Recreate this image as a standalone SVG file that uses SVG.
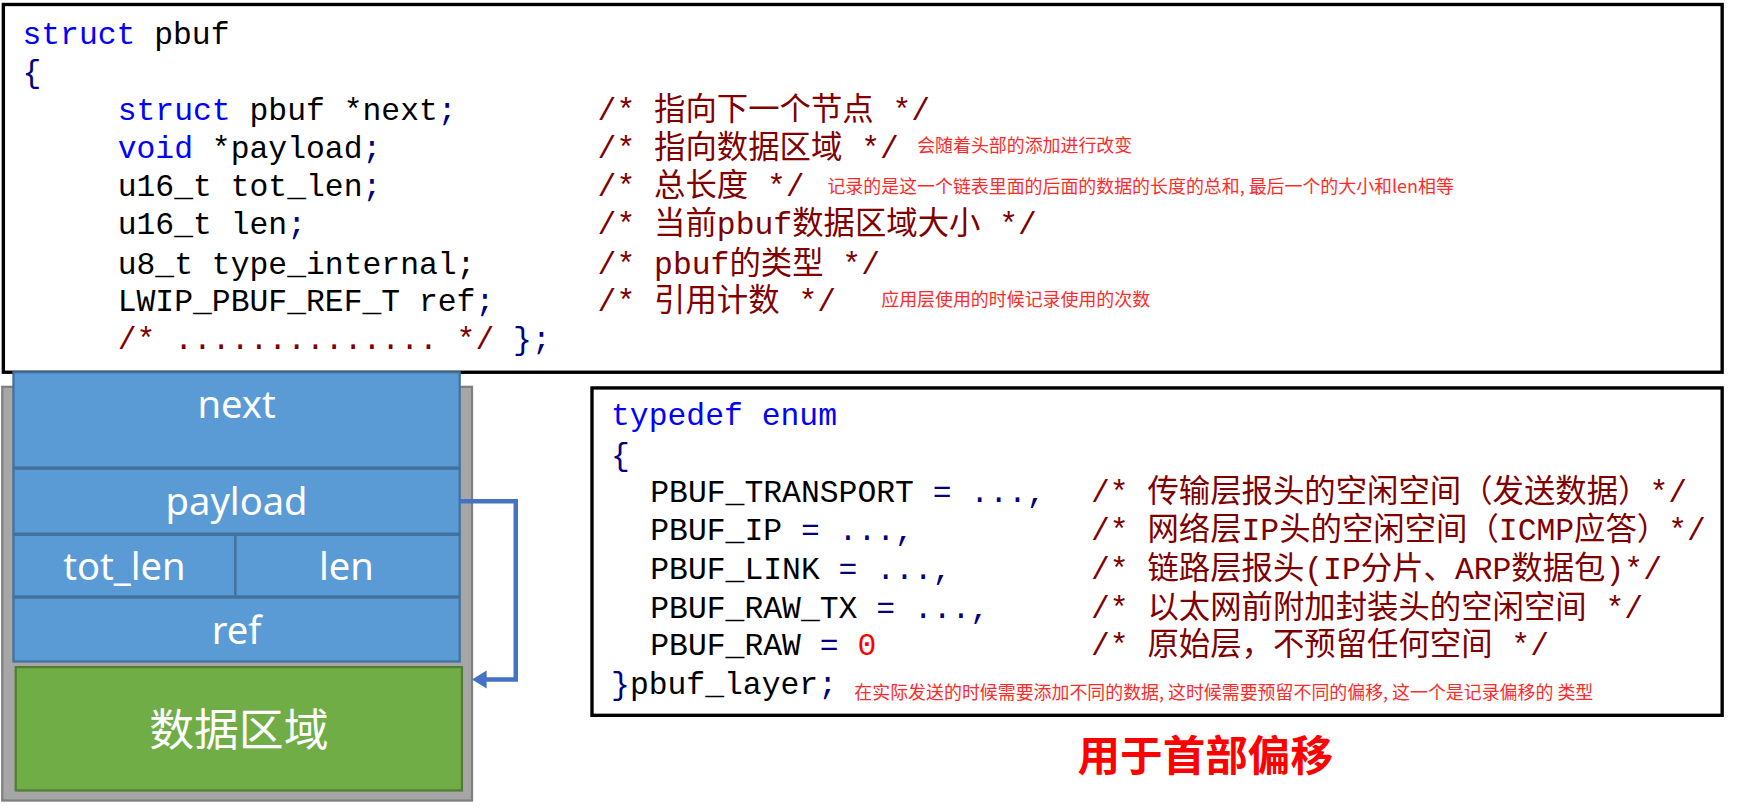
<svg xmlns="http://www.w3.org/2000/svg" width="1758" height="808" viewBox="0 0 1758 808">
<style>
.c{font-family:"Liberation Mono","Noto Sans CJK SC",monospace;font-size:28px;fill:#000;white-space:pre}
.k{fill:#0000ff}.p{fill:#000080}.m{fill:#800000}.n{fill:#ff0000}
.note{font-family:"Noto Sans CJK SC",sans-serif;font-size:16px;fill:#ff2a2a}
.w{font-family:"Noto Sans","Noto Sans CJK SC",sans-serif;font-size:34px;fill:#fff;text-anchor:middle}
.blue{fill:#5b9bd5;stroke:#41719c;stroke-width:2}
</style>
<rect width="1758" height="808" fill="#fff"/>
<g transform="scale(1.1212)">
<g id="struct">
<rect x="3" y="4" width="1533" height="328" fill="#fff" stroke="#000" stroke-width="3"/>
<text class="c" x="20" y="39"><tspan class="k">struct</tspan> pbuf</text>
<text class="c p" x="20" y="73">{</text>
<text class="c" x="105" y="107"><tspan class="k">struct</tspan> pbuf *next<tspan class="p">;</tspan></text>
<text class="c" x="105" y="141"><tspan class="k">void</tspan> *payload<tspan class="p">;</tspan></text>
<text class="c" x="105" y="175">u16_t tot_len<tspan class="p">;</tspan></text>
<text class="c" x="105" y="209">u16_t len<tspan class="p">;</tspan></text>
<text class="c" x="105" y="244">u8_t type_internal;</text>
<text class="c" x="105" y="277">LWIP_PBUF_REF_T ref<tspan class="p">;</tspan></text>
<text class="c" x="105" y="311"><tspan class="m">/* .............. */</tspan> <tspan class="p">};</tspan></text>
<text class="c m" x="533" y="107">/* 指向下一个节点 */</text>
<text class="c m" x="533" y="141">/* 指向数据区域 */</text>
<text class="c m" x="533" y="175">/* 总长度 */</text>
<text class="c m" x="533" y="209">/* 当前pbuf数据区域大小 */</text>
<text class="c m" x="533" y="244">/* pbuf的类型 */</text>
<text class="c m" x="533" y="277">/* 引用计数 */</text>
<text class="note" x="818" y="136">会随着头部的添加进行改变</text>
<text class="note" x="738" y="172">记录的是这一个链表里面的后面的数据的长度的总和, 最后一个的大小和len相等</text>
<text class="note" x="786" y="273">应用层使用的时候记录使用的次数</text>
</g>
<g id="pbuf-diagram">
<rect x="2" y="345" width="419" height="369" fill="#a6a6a6" stroke="#7f7f7f" stroke-width="2"/>
<g id="next"><rect class="blue" x="12" y="332" width="398" height="85"/><text class="w" x="211" y="373">next</text></g>
<g id="payload"><rect class="blue" x="12" y="418" width="398" height="58"/><text class="w" x="211" y="459">payload</text></g>
<g id="tot_len"><rect class="blue" x="12" y="477" width="198" height="55"/><text class="w" x="111" y="517">tot_len</text></g>
<g id="len"><rect class="blue" x="210" y="477" width="200" height="55"/><text class="w" x="309" y="517">len</text></g>
<g id="ref"><rect class="blue" x="12" y="533" width="398" height="57"/><text class="w" x="211" y="574">ref</text></g>
<g id="data"><rect x="14" y="595" width="398" height="110" fill="#70ad47" stroke="#507e32" stroke-width="2"/><text class="w" x="213" y="665" style="font-size:40px">数据区域</text></g>
</g>
<g id="connectors">
<path d="M410,447 H460 V606 H430" fill="none" stroke="#4472c4" stroke-width="4"/>
<path d="M421,606 L434,598 L434,614 z" fill="#4472c4"/>
</g>
<g id="enum">
<rect x="528" y="346" width="1008" height="292" fill="#fff" stroke="#000" stroke-width="3"/>
<text class="c k" x="545" y="379">typedef enum</text>
<text class="c p" x="545" y="415">{</text>
<text class="c" x="580" y="448">PBUF_TRANSPORT <tspan class="p">= ...,</tspan></text>
<text class="c" x="580" y="482">PBUF_IP <tspan class="p">= ...,</tspan></text>
<text class="c" x="580" y="516">PBUF_LINK <tspan class="p">= ...,</tspan></text>
<text class="c" x="580" y="551">PBUF_RAW_TX <tspan class="p">= ...,</tspan></text>
<text class="c" x="580" y="584">PBUF_RAW <tspan class="p">=</tspan> <tspan class="n">0</tspan></text>
<text class="c" x="545" y="619"><tspan class="p">}</tspan>pbuf_layer<tspan class="p">;</tspan></text>
<text class="c m" x="973" y="448">/* 传输层报头的空闲空间（发送数据）*/</text>
<text class="c m" x="973" y="482">/* 网络层IP头的空闲空间（ICMP应答）*/</text>
<text class="c m" x="973" y="516">/* 链路层报头(IP分片、ARP数据包)*/</text>
<text class="c m" x="973" y="551">/* 以太网前附加封装头的空闲空间 */</text>
<text class="c m" x="973" y="584">/* 原始层，不预留任何空间 */</text>
<text class="note" x="762" y="623">在实际发送的时候需要添加不同的数据, 这时候需要预留不同的偏移, 这一个是记录偏移的 类型</text>
</g>
<text x="1075" y="688" text-anchor="middle" style="font-family:'Noto Sans CJK SC',sans-serif;font-size:38px;font-weight:bold;fill:#ff0000">用于首部偏移</text>
</g>
</svg>
